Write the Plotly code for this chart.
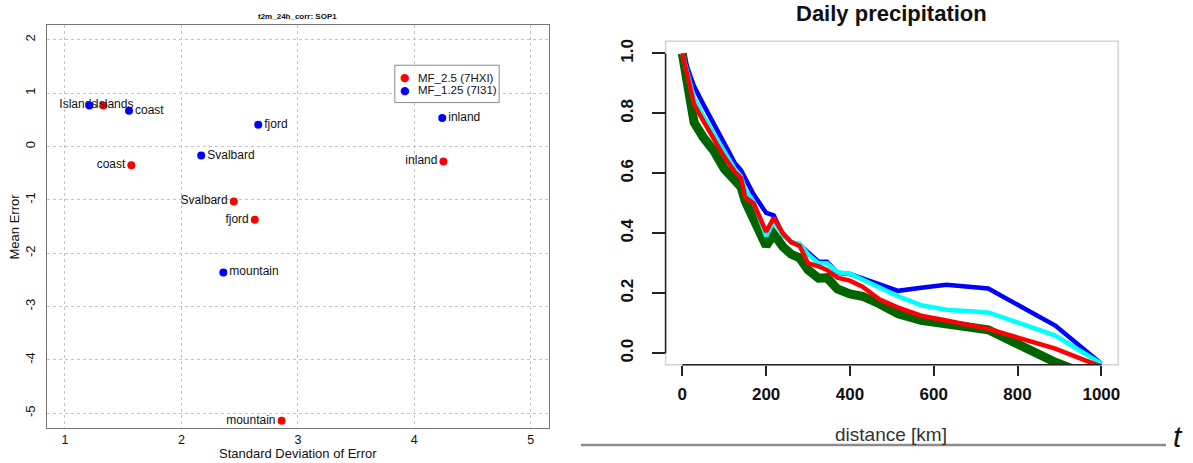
import plotly.graph_objects as go

W, H = 1193, 463
FONT = "Liberation Sans, Arial, Helvetica, sans-serif"

# ---------------- error statistics per region (left panel) ----------------
regions = ["Islands", "coast", "fjord", "Svalbard", "inland", "mountain"]
sd_mf25 = [1.33, 1.57, 2.63, 2.45, 4.25, 2.86]
me_mf25 = [0.77, -0.35, -1.375, -1.03, -0.28, -5.14]
sd_mf125 = [1.21, 1.55, 2.66, 2.17, 4.24, 2.36]
me_mf125 = [0.77, 0.67, 0.41, -0.17, 0.535, -2.36]
legend_names = ["MF_2.5 (7HXI)", "MF_1.25 (7I31)"]
sd_ticks = [1, 2, 3, 4, 5]
me_ticks = [-5, -4, -3, -2, -1, 0, 1, 2]

# ---------------- correlation vs. distance (right panel) ----------------
distance_km = [0, 28, 50, 75, 100, 125, 140, 150, 170, 200, 218, 240, 260, 280,
               300, 325, 345, 370, 400, 430, 470, 515, 570, 630, 730, 890, 1000]
corr_green = [1.0, 0.77, 0.72, 0.675, 0.615, 0.57, 0.555, 0.507, 0.45, 0.358, 0.397,
              0.355, 0.33, 0.318, 0.278, 0.25, 0.252, 0.214, 0.198, 0.19, 0.165,
              0.131, 0.11, 0.096, 0.078, -0.03, -0.09]
corr_blue = [1.0, 0.89, 0.83, 0.765, 0.70, 0.635, 0.61, 0.585, 0.53, 0.468, 0.46,
             0.395, 0.37, 0.362, 0.335, 0.305, 0.305, 0.268, 0.264, 0.25, 0.232,
             0.208, 0.218, 0.228, 0.216, 0.092, -0.035]
corr_cyan = [1.0, 0.85, 0.79, 0.73, 0.67, 0.615, 0.59, 0.545, 0.505, 0.39, 0.44,
             0.395, 0.37, 0.365, 0.33, 0.30, 0.30, 0.27, 0.265, 0.245, 0.219,
             0.19, 0.16, 0.145, 0.136, 0.059, -0.035]
corr_red = [1.0, 0.83, 0.775, 0.715, 0.655, 0.605, 0.585, 0.52, 0.50, 0.405, 0.452,
            0.40, 0.37, 0.358, 0.30, 0.29, 0.278, 0.252, 0.242, 0.222, 0.18,
            0.152, 0.125, 0.109, 0.081, 0.015, -0.045]
y_ticks = [0.0, 0.2, 0.4, 0.6, 0.8, 1.0]
x_ticks = [0, 200, 400, 600, 800, 1000]


def px_x(p):
    return p / W


def px_y(p):
    return 1 - p / H


fig = go.Figure()

# left panel: red then blue points with region labels
fig.add_trace(go.Scatter(
    x=sd_mf25, y=me_mf25, mode="markers+text", text=regions,
    textposition="middle left", name=legend_names[0],
    marker=dict(color="#ff0000", size=8),
    textfont=dict(family=FONT, size=12, color="#111"),
    xaxis="x", yaxis="y", cliponaxis=False, showlegend=False))
fig.add_trace(go.Scatter(
    x=sd_mf125, y=me_mf125, mode="markers+text", text=regions,
    textposition="middle right", name=legend_names[1],
    marker=dict(color="#0000ff", size=8),
    textfont=dict(family=FONT, size=12, color="#111"),
    xaxis="x", yaxis="y", cliponaxis=False, showlegend=False))

# right panel: four correlation curves
for vals, col, wid, nm in [(corr_green, "#006400", 9, "green"),
                           (corr_blue, "#0000ff", 4.5, "blue"),
                           (corr_cyan, "#00ffff", 4.5, "cyan"),
                           (corr_red, "#ff0000", 4.5, "red")]:
    fig.add_trace(go.Scatter(
        x=distance_km, y=vals, mode="lines", name=nm,
        line=dict(color=col, width=wid),
        xaxis="x2", yaxis="y2", showlegend=False))

shapes = [
    # light frame around right panel
    dict(type="rect", xref="x2 domain", yref="y2 domain", x0=0, x1=1, y0=0, y1=1,
         line=dict(color="#d4d4d4", width=1.5), layer="below"),
    # R-style axis lines over tick range
    dict(type="line", xref="x2 domain", yref="y2", x0=0, x1=0, y0=0, y1=1,
         line=dict(color="#222", width=1.5)),
    dict(type="line", xref="x2", yref="y2 domain", x0=0, x1=1000, y0=0, y1=0,
         line=dict(color="#222", width=1.5)),
    # grey rule under right panel
    dict(type="line", xref="paper", yref="paper", x0=px_x(582), x1=px_x(1168),
         y0=px_y(445), y1=px_y(445), line=dict(color="#8c8c8c", width=2.5)),
    # legend box for left panel
    dict(type="rect", xref="paper", yref="paper", x0=px_x(395.5), x1=px_x(500),
         y0=px_y(101), y1=px_y(63.5), line=dict(color="#8a8a8a", width=1),
         fillcolor="white"),
]

annotations = [
    dict(text="<b>t2m_24h_corr: SOP1</b>", x=px_x(298.5), y=px_y(15), xref="paper",
         yref="paper", showarrow=False, font=dict(family=FONT, size=8, color="#111"),
         xanchor="center", yanchor="middle"),
    dict(text="Standard Deviation of Error", x=px_x(298.5), y=px_y(453), xref="paper",
         yref="paper", showarrow=False, font=dict(family=FONT, size=13, color="#111"),
         xanchor="center", yanchor="middle"),
    dict(text="Mean Error", x=px_x(15), y=px_y(225.5), xref="paper", yref="paper",
         showarrow=False, textangle=-90, font=dict(family=FONT, size=13, color="#111"),
         xanchor="center", yanchor="middle"),
    dict(text="Daily precipitation", x=px_x(893), y=px_y(12), xref="paper",
         yref="paper", showarrow=False,
         font=dict(family=FONT, size=22, color="#111", weight="bold"),
         xanchor="center", yanchor="middle"),
    dict(text="distance [km]", x=px_x(892), y=px_y(434), xref="paper", yref="paper",
         showarrow=False, font=dict(family=FONT, size=19, color="#333"),
         xanchor="center", yanchor="middle"),
    dict(text="t", x=px_x(1180), y=px_y(436), xref="paper", yref="paper",
         showarrow=False, font=dict(family=FONT, size=30, color="#111", style="italic"),
         xanchor="center", yanchor="middle"),
]
for row_y, col, nm in [(76, "#ff0000", legend_names[0]), (88.7, "#0000ff", legend_names[1])]:
    annotations.append(dict(text="●", x=px_x(405.7), y=px_y(row_y), xref="paper",
                            yref="paper", showarrow=False, xanchor="center",
                            yanchor="middle", font=dict(family="DejaVu Sans", size=11, color=col)))
    annotations.append(dict(text=nm, x=px_x(416.5), y=px_y(row_y), xref="paper",
                            yref="paper", showarrow=False, xanchor="left",
                            yanchor="middle", font=dict(family=FONT, size=11.5, color="#111")))

fig.update_layout(
    width=W, height=H, autosize=False,
    margin=dict(l=0, r=0, t=0, b=0),
    paper_bgcolor="white", plot_bgcolor="white",
    showlegend=False,
    font=dict(family=FONT, color="#111"),
    xaxis=dict(domain=[px_x(46.7), px_x(550)], range=[0.8426, 5.1574],
               tickvals=sd_ticks, ticks="", showgrid=True, gridcolor="#c4c4c4",
               griddash="dot", gridwidth=1, showline=True, mirror=True,
               linecolor="#777", linewidth=1, zeroline=False, anchor="y",
               tickfont=dict(size=12.5, color="#111")),
    yaxis=dict(domain=[px_y(428), px_y(23)], range=[-5.28, 2.28],
               tickvals=me_ticks, ticktext=[str(v) for v in me_ticks],
               tickangle=-90, ticks="", ticklabelstandoff=5,
               showgrid=True, gridcolor="#c4c4c4", griddash="dot", gridwidth=1,
               showline=True, mirror=True, linecolor="#777", linewidth=1,
               zeroline=False, anchor="x", tickfont=dict(size=13, color="#111")),
    xaxis2=dict(domain=[px_x(666.7), px_x(1120)], range=[-40, 1040],
                tickvals=x_ticks, ticks="outside", ticklen=10, tickwidth=1.5,
                tickcolor="#222", showgrid=False, zeroline=False, showline=False,
                anchor="y2", ticklabelstandoff=4,
                tickfont=dict(size=17, color="#111", weight="bold")),
    yaxis2=dict(domain=[px_y(364.3), px_y(39.3)], range=[-0.0385, 1.041],
                tickvals=y_ticks, ticktext=[f"{v:.1f}" for v in y_ticks],
                tickangle=-90, ticks="outside", ticklen=13, tickwidth=1.5,
                tickcolor="#222", showgrid=False, zeroline=False, showline=False,
                anchor="x2", ticklabelstandoff=12,
                tickfont=dict(size=17, color="#111", weight="bold")),
    shapes=shapes,
    annotations=annotations,
)

fig.write_html("out.html")
